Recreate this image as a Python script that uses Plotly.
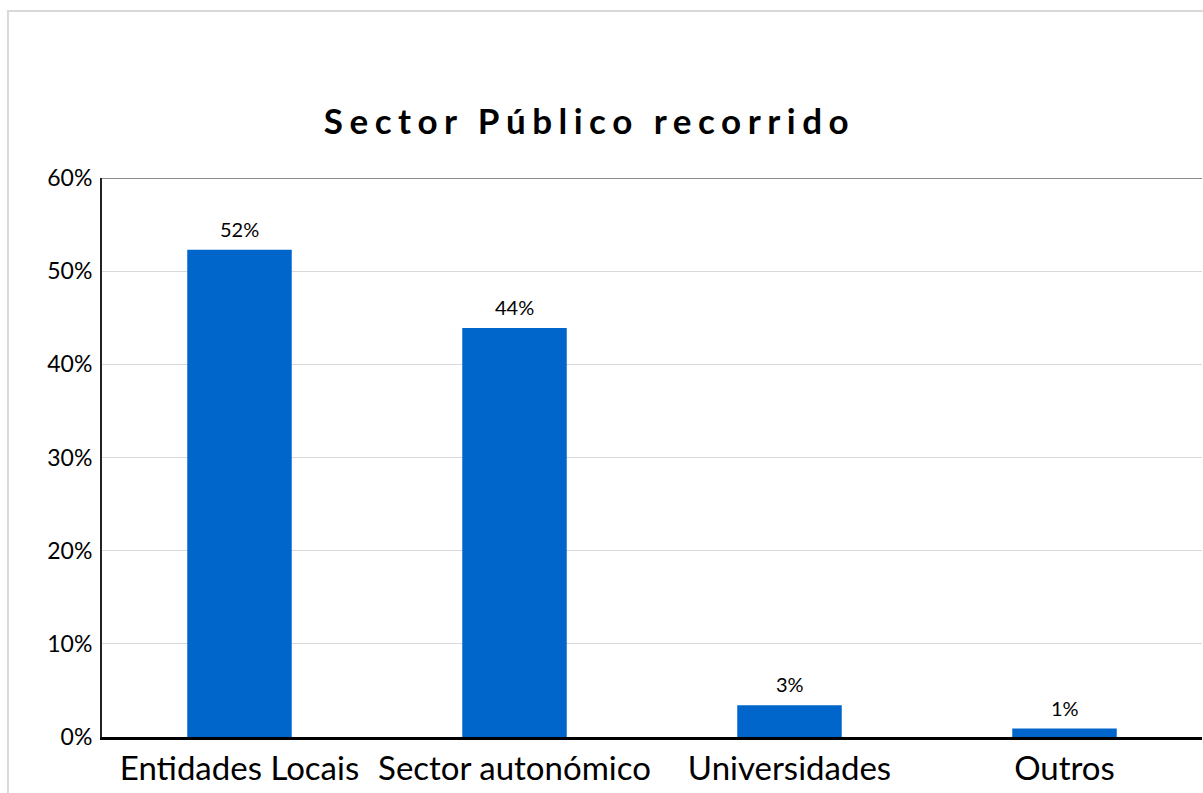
import plotly.graph_objects as go

categories = ["Entidades Locais", "Sector autonómico", "Universidades", "Outros"]
values = [0.523, 0.439, 0.034, 0.009]
labels = ["52%", "44%", "3%", "1%"]
tick_vals = [0, 0.1, 0.2, 0.3, 0.4, 0.5, 0.6]
tick_text = ["0%", "10%", "20%", "30%", "40%", "50%", "60%"]
title_text = "Sector Público recorrido"

y_max = tick_vals[-1]

fig = go.Figure(go.Bar(
    x=categories, y=values,
    marker=dict(color="#0066CC", line=dict(width=0)),
    width=0.38, hoverinfo="skip",
))

for c, v, t in zip(categories, values, labels):
    fig.add_annotation(x=c, y=v, text=t, showarrow=False, yanchor="bottom",
                       yshift=7, font=dict(family="Lato", size=20, color="#000000"))

fig.update_layout(
    width=1203, height=793,
    margin=dict(l=102, r=1, t=178, b=56),
    paper_bgcolor="white", plot_bgcolor="white",
    showlegend=False,
    title=dict(text=title_text, x=0.49, xanchor="center", y=0.846, yanchor="middle",
               font=dict(family="Lato", size=35, color="#000000", weight="bold")),
    xaxis=dict(showline=True, linecolor="#000000", linewidth=3, ticks="",
               tickfont=dict(family="Lato", size=33, color="#000000"),
               showgrid=False, zeroline=False),
    yaxis=dict(range=[0, y_max], tickvals=tick_vals, ticktext=tick_text,
               showline=True, linecolor="#222222", linewidth=2,
               showgrid=True, gridcolor="#d9d9d9", gridwidth=1, zeroline=False,
               tickfont=dict(family="Lato", size=23, color="#000000"), ticks="",
               ticklabelstandoff=3),
    shapes=[
        dict(type="line", xref="paper", yref="y", x0=0, x1=1, y0=y_max, y1=y_max,
             line=dict(color="#8c8c8c", width=2), layer="above"),
        dict(type="rect", xref="paper", yref="paper", x0=-0.0855, x1=1.02, y0=-0.12, y1=1.2988,
             line=dict(color="#d9d9d9", width=2), fillcolor="rgba(0,0,0,0)", layer="below"),
    ],
)

post = """
document.body.style.margin = '0';
document.body.style.padding = '0';
var t = document.querySelectorAll('.gtitle');
t.forEach(function(e){ e.style.letterSpacing = '6.5px'; });
"""
fig.write_html("out.html", post_script=post, config={"displayModeBar": False})
